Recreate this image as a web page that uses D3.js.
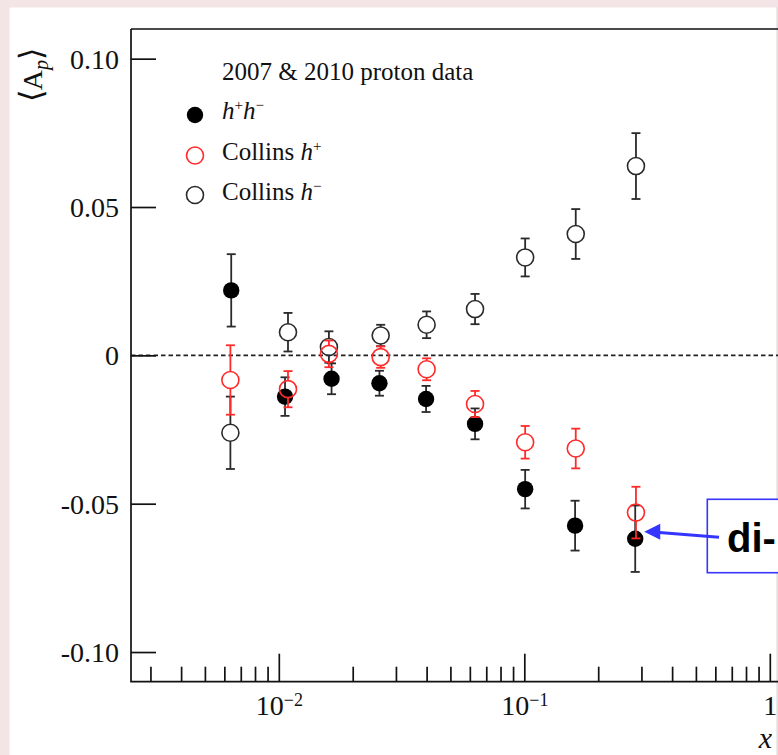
<!DOCTYPE html>
<html>
<head>
<meta charset="utf-8">
<script src="https://cdn.jsdelivr.net/npm/d3@7"></script>
<style>
  html, body { margin: 0; padding: 0; background: #f3e4e6; }
  svg { display: block; }
</style>
</head>
<body>
<svg id="chart" width="778" height="755"></svg>
<script>
// ---------- data ----------
const xHH   = [0.0064, 0.0106, 0.0164, 0.0257, 0.0398, 0.0630, 0.1008, 0.161, 0.283];
const aHH   = [0.0219, -0.0139, -0.0079, -0.0094, -0.0147, -0.0231, -0.0451, -0.0574, -0.0618];
const eHH   = [0.0122, 0.0065, 0.0052, 0.0042, 0.0044, 0.0052, 0.0065, 0.0084, 0.0112];

const xCol  = [0.00635, 0.0109, 0.0160, 0.0260, 0.0400, 0.0630, 0.1008, 0.162, 0.285];
const aColP = [-0.0083, -0.0114, 0.0005, -0.0006, -0.0047, -0.0164, -0.0293, -0.0314, -0.0530];
const eColP = [0.0117, 0.0061, 0.0045, 0.0036, 0.0037, 0.0044, 0.0055, 0.0067, 0.0087];
const aColM = [-0.0261, 0.0078, 0.0028, 0.0067, 0.0103, 0.0156, 0.0330, 0.0409, 0.0638];
const eColM = [0.0122, 0.0065, 0.0053, 0.0036, 0.0045, 0.0051, 0.0064, 0.0084, 0.0111];

const yTicks = [0.10, 0.05, 0, -0.05, -0.10];
const xMajorTicks = [0.01, 0.1, 1];
const xMajorBase  = ["10", "10", "1"];
const xMajorExp   = ["\u22122", "\u22121", ""];
const xMinorTicks = [0.003,0.004,0.005,0.006,0.007,0.008,0.009,
                     0.02,0.03,0.04,0.05,0.06,0.07,0.08,0.09,
                     0.2,0.3,0.4,0.5,0.6,0.7,0.8,0.9];
const legendTitle = "2007 & 2010 proton data";
const annotationText = "di-";

// ---------- layout ----------
const svg = d3.select("#chart");
const L = 131, T = 29, B = 681.7;
const decadePx = 245.5;
const xMin = 0.0025, xMax = 1.4;
const serif = "'Liberation Serif','Times New Roman',serif";
const sans = "'Liberation Sans',Arial,sans-serif";

const x = d3.scaleLog().domain([xMin, xMax])
  .range([L, L + Math.log10(xMax / xMin) * decadePx]);
const y = d3.scaleLinear().domain([-0.11, 0.11]).range([B, T]);

// page panel
svg.append("rect").attr("x", 0).attr("y", 0).attr("width", 778).attr("height", 755).attr("fill", "#f3e4e6");
svg.append("rect").attr("x", 9.5).attr("y", 7.5).attr("width", 767.5).attr("height", 748).attr("fill", "#ffffff");
svg.append("line").attr("x1", 777).attr("x2", 777).attr("y1", 7.5).attr("y2", 755)
  .attr("stroke", "#d8d8d8").attr("stroke-width", 1);

// zero dashed line
svg.append("line")
  .attr("x1", L).attr("x2", 778).attr("y1", y(0)).attr("y2", y(0))
  .attr("stroke", "#222").attr("stroke-width", 1.9).attr("stroke-dasharray", "4.5,3");

// frame
svg.append("path")
  .attr("d", `M${L},${T} L${L},${B} L790,${B} M${L},${T} L790,${T}`)
  .attr("fill", "none").attr("stroke", "#111").attr("stroke-width", 1.7);

// y axis
const yAxis = d3.axisLeft(y).tickValues(yTicks)
  .tickSizeInner(-25).tickSizeOuter(0).tickPadding(12)
  .tickFormat(d => d === 0 ? "0" : d.toFixed(2));
const gy = svg.append("g").attr("transform", `translate(${L},0)`).call(yAxis);
gy.select(".domain").remove();
gy.selectAll(".tick line").attr("stroke", "#111").attr("stroke-width", 1.7);
gy.selectAll(".tick text").attr("font-family", serif).attr("font-size", 28)
  .attr("fill", "#111").attr("dy", "0.34em");

// x axis minor
const xMinorAxis = d3.axisBottom(x).tickValues(xMinorTicks)
  .tickSizeInner(-15).tickSizeOuter(0).tickFormat(() => "");
const gxm = svg.append("g").attr("transform", `translate(0,${B})`).call(xMinorAxis);
gxm.select(".domain").remove();
gxm.selectAll(".tick line").attr("stroke", "#111").attr("stroke-width", 1.7);

// x axis major
const xAxis = d3.axisBottom(x).tickValues(xMajorTicks)
  .tickSizeInner(-28).tickSizeOuter(0).tickPadding(13.5).tickFormat(() => "");
const gx = svg.append("g").attr("transform", `translate(0,${B})`).call(xAxis);
gx.select(".domain").remove();
gx.selectAll(".tick line").attr("stroke", "#111").attr("stroke-width", 1.7);
gx.selectAll(".tick text").each(function(d, i) {
  const t = d3.select(this).text(null)
    .attr("font-family", serif).attr("font-size", 28).attr("fill", "#111");
  t.append("tspan").text(xMajorBase[i]);
  if (xMajorExp[i]) t.append("tspan").attr("font-size", 18).attr("dy", -9).text(xMajorExp[i]);
});

// x axis title
svg.append("text").attr("x", 772).attr("y", 748).attr("text-anchor", "end")
  .attr("font-family", serif).attr("font-size", 30).attr("font-style", "italic")
  .attr("fill", "#111").text("x");

// y axis title
const yt = svg.append("text")
  .attr("transform", "translate(42,48) rotate(-90)")
  .attr("text-anchor", "end").attr("font-family", serif).attr("font-size", 28).attr("fill", "#111");
yt.append("tspan").attr("font-size", 32).text("\u27E8");
yt.append("tspan").text("A");
yt.append("tspan").attr("font-style", "italic").attr("font-size", 20).attr("dy", 6).text("p");
yt.append("tspan").attr("dy", -6).attr("font-size", 32).text("\u27E9");

// ---------- markers ----------
const R = 8.5, RF = 8.2, CAP = 4.5;
function drawSeries(xs, vs, es, color, hollow) {
  const g = svg.append("g");
  xs.forEach((xv, i) => {
    const cx = x(xv), cy = y(vs[i]);
    const yt = y(vs[i] + es[i]), yb = y(vs[i] - es[i]);
    const gap = hollow ? R : 0;
    const sw = 1.8;
    if (cy - yt > gap) {
      g.append("line").attr("x1", cx).attr("x2", cx).attr("y1", yt).attr("y2", cy - gap)
        .attr("stroke", color).attr("stroke-width", sw);
      g.append("line").attr("x1", cx).attr("x2", cx).attr("y1", cy + gap).attr("y2", yb)
        .attr("stroke", color).attr("stroke-width", sw);
    }
    g.append("line").attr("x1", cx - CAP).attr("x2", cx + CAP).attr("y1", yt).attr("y2", yt)
      .attr("stroke", color).attr("stroke-width", sw);
    g.append("line").attr("x1", cx - CAP).attr("x2", cx + CAP).attr("y1", yb).attr("y2", yb)
      .attr("stroke", color).attr("stroke-width", sw);
    if (hollow) {
      g.append("circle").attr("cx", cx).attr("cy", cy).attr("r", R)
        .attr("fill", "none").attr("stroke", color).attr("stroke-width", 1.6);
    } else {
      g.append("circle").attr("cx", cx).attr("cy", cy).attr("r", RF).attr("fill", "#000");
    }
  });
}
const errBlack = "#2a2a2a";
drawSeries(xHH, aHH, eHH, errBlack, false);
drawSeries(xCol, aColM, eColM, errBlack, true);
drawSeries(xCol, aColP, eColP, "#ff2a2a", true);

// ---------- legend ----------
const lgX = 195, txX = 222;
svg.append("text").attr("x", txX).attr("y", 80).attr("font-family", serif).attr("font-size", 25)
  .attr("fill", "#111").text(legendTitle);
const rows = [115, 155.5, 195];
svg.append("circle").attr("cx", lgX).attr("cy", rows[0]).attr("r", RF).attr("fill", "#000");
svg.append("circle").attr("cx", lgX).attr("cy", rows[1]).attr("r", R).attr("fill", "none")
  .attr("stroke", "#ff2a2a").attr("stroke-width", 1.6);
svg.append("circle").attr("cx", lgX).attr("cy", rows[2]).attr("r", R).attr("fill", "none")
  .attr("stroke", errBlack).attr("stroke-width", 1.6);

const t1 = svg.append("text").attr("x", txX).attr("y", rows[0] + 3.5).attr("font-family", serif)
  .attr("font-size", 25).attr("fill", "#111");
t1.append("tspan").attr("font-style", "italic").text("h");
t1.append("tspan").attr("font-size", 15).attr("dy", -9).text("+");
t1.append("tspan").attr("font-style", "italic").attr("dy", 9).text("h");
t1.append("tspan").attr("font-size", 15).attr("dy", -9).text("\u2212");

const t2 = svg.append("text").attr("x", txX).attr("y", rows[1] + 4).attr("font-family", serif)
  .attr("font-size", 25).attr("fill", "#111");
t2.append("tspan").text("Collins ");
t2.append("tspan").attr("font-style", "italic").text("h");
t2.append("tspan").attr("font-size", 15).attr("dy", -9).text("+");

const t3 = svg.append("text").attr("x", txX).attr("y", rows[2] + 4.5).attr("font-family", serif)
  .attr("font-size", 25).attr("fill", "#111");
t3.append("tspan").text("Collins ");
t3.append("tspan").attr("font-style", "italic").text("h");
t3.append("tspan").attr("font-size", 15).attr("dy", -9).text("\u2212");

// ---------- annotation ----------
const blue = "#3535ff";
const px = x(xHH[8]), py = y(aHH[8]);
svg.append("rect").attr("x", 707.3).attr("y", 499.3).attr("width", 100).attr("height", 73.4)
  .attr("fill", "#fff").attr("stroke", blue).attr("stroke-width", 1.6);
const tipX = px + 9, tipY = py - 7;
svg.append("line").attr("x1", 719).attr("y1", tipY + 5.5).attr("x2", tipX + 12).attr("y2", tipY + 0.5)
  .attr("stroke", blue).attr("stroke-width", 3);
svg.append("path")
  .attr("d", `M${tipX},${tipY} L${tipX + 16},${tipY - 8} L${tipX + 16},${tipY + 8} Z`)
  .attr("fill", blue);
svg.append("text").attr("x", 727).attr("y", 551.5).attr("font-family", sans)
  .attr("font-weight", "bold").attr("font-size", 40).attr("fill", "#000").text(annotationText);
</script>
</body>
</html>
